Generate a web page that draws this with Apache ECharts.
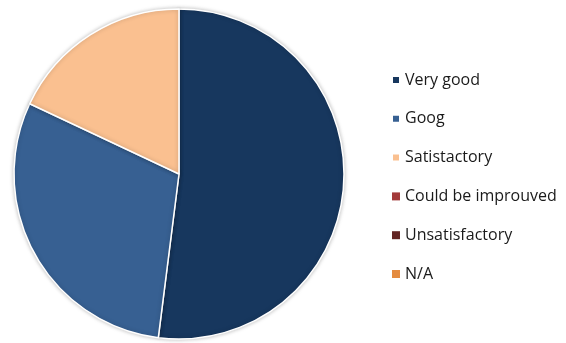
<!DOCTYPE html>
<html>
<head>
<meta charset="utf-8">
<script src="https://cdn.jsdelivr.net/npm/echarts@6/dist/echarts.min.js"></script>
<style>
  html, body { margin: 0; padding: 0; background: #ffffff; }
  #chart { width: 566px; height: 343px; }
</style>
</head>
<body>
<div id="chart"></div>
<script>
// Survey answers, share of responses (%)
const categories = ['Very good', 'Goog', 'Satistactory', 'Could be improuved', 'Unsatisfactory', 'N/A'];
const values = [52, 30, 18, 0, 0, 0];
const colors = ['#17375e', '#376092', '#fac090', '#a33a3a', '#632523', '#e48b3f'];

const chart = echarts.init(document.getElementById('chart'), null, { renderer: 'canvas' });

const seriesData = categories.map((name, i) => ({
  name,
  value: values[i],
  itemStyle: {
    color: colors[i],
    borderWidth: values[i] > 0 ? 1.5 : 0
  }
}));

chart.setOption({
  animation: false,
  color: colors,
  legend: {
    orient: 'vertical',
    left: 386,
    top: 67,
    itemWidth: 8,
    itemHeight: 8,
    itemGap: 22.8,
    icon: 'rect',
    textStyle: {
      fontFamily: 'Open Sans',
      fontSize: 16,
      color: '#1a1a1a'
    },
    data: categories
  },
  series: [{
    type: 'pie',
    center: [179, 174],
    radius: [0, 165],
    startAngle: 90,
    clockwise: true,
    label: { show: false },
    labelLine: { show: false },
    emphasis: { disabled: true },
    itemStyle: {
      borderColor: '#ffffff',
      shadowBlur: 4,
      shadowColor: 'rgba(0,0,0,0.25)'
    },
    data: seriesData
  }]
});
</script>
</body>
</html>
